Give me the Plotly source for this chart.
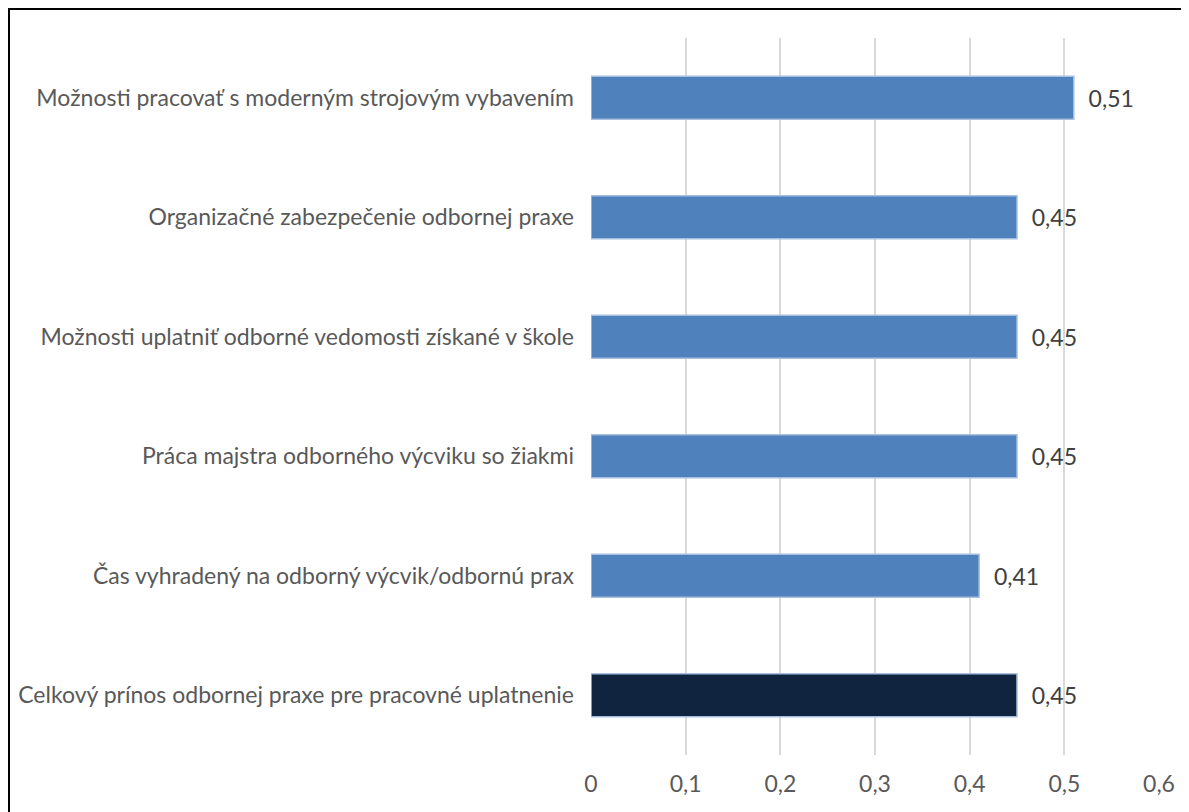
import plotly.graph_objects as go

categories = [
    "Možnosti pracovať s moderným strojovým vybavením",
    "Organizačné zabezpečenie odbornej praxe",
    "Možnosti uplatniť odborné vedomosti získané v škole",
    "Práca majstra odborného výcviku so žiakmi",
    "Čas vyhradený na odborný výcvik/odbornú prax",
    "Celkový prínos odbornej praxe pre pracovné uplatnenie",
]
values = [0.51, 0.45, 0.45, 0.45, 0.41, 0.45]
bar_colors = ["#4F81BD", "#4F81BD", "#4F81BD", "#4F81BD", "#4F81BD", "#10243F"]
tick_vals = [0, 0.1, 0.2, 0.3, 0.4, 0.5, 0.6]

OFF = 8  # default page body margin
W, H = 1189 - OFF, 812 - OFF
L, R, T, B = 591 - OFF, 30, 38 - OFF, 57

fig = go.Figure(go.Bar(
    y=categories,
    x=values,
    orientation="h",
    marker=dict(color=bar_colors, line=dict(color="#A7BFDE", width=1.5)),
    width=0.36,
    text=["  " + f"{v:.2f}".replace(".", ",") for v in values],
    textposition="outside",
    textfont=dict(family="Lato", size=23, color="#404040"),
    cliponaxis=False,
))

pw, ph = W - L - R, H - T - B
def px_x(p):
    return (p - OFF - L) / pw
def px_y(p):
    return (H - B - (p - OFF)) / ph

fig.add_shape(type="rect", xref="paper", yref="paper",
              x0=px_x(9), x1=px_x(1220), y0=px_y(9), y1=px_y(850),
              line=dict(color="black", width=2), layer="above")

fig.update_layout(
    width=W, height=H,
    margin=dict(l=L, r=R, t=T, b=B, autoexpand=False),
    paper_bgcolor="white", plot_bgcolor="white",
    separators=", ",
    showlegend=False,
    font=dict(family="Lato", size=23, color="#595959"),
    xaxis=dict(range=[0, 0.6], tickvals=tick_vals, showgrid=True,
               gridcolor="#D9D9D9", gridwidth=1.5, zeroline=False,
               showline=False, ticks="", ticklabelstandoff=13,
               tickfont=dict(size=23, color="#595959")),
    yaxis=dict(autorange="reversed", showgrid=False, zeroline=False,
               showline=False, ticks="", ticklabelstandoff=16,
               tickfont=dict(size=23, color="#595959")),
)

fig.write_html("out.html")
